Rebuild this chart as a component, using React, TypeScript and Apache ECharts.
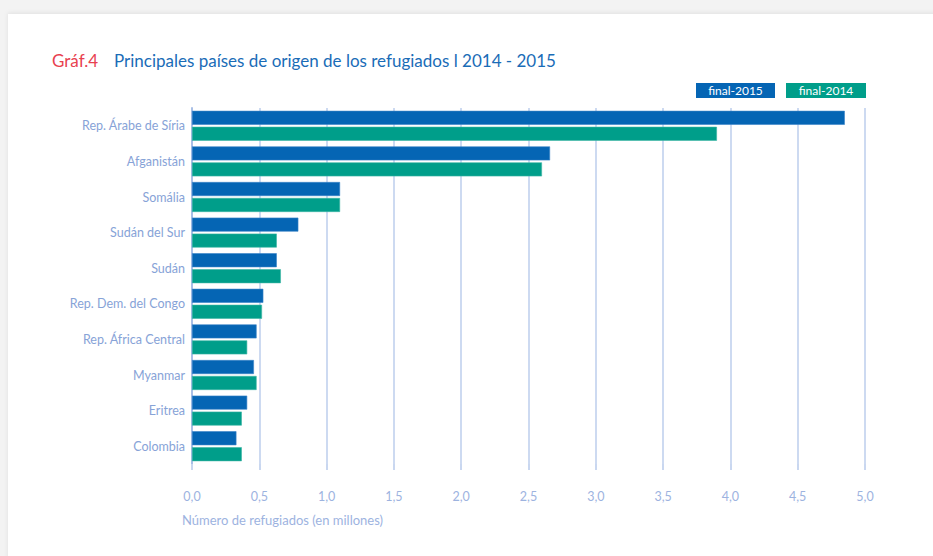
import React, { useEffect, useRef } from "react";
import * as echarts from "echarts";

const categories = [
  "Rep. Árabe de Síria",
  "Afganistán",
  "Somália",
  "Sudán del Sur",
  "Sudán",
  "Rep. Dem. del Congo",
  "Rep. África Central",
  "Myanmar",
  "Eritrea",
  "Colombia",
];
const final2015 = [4.85, 2.66, 1.1, 0.79, 0.63, 0.53, 0.48, 0.46, 0.41, 0.33];
const final2014 = [3.9, 2.6, 1.1, 0.63, 0.66, 0.52, 0.41, 0.48, 0.37, 0.37];
const seriesNames = ["final-2015", "final-2014"];
const xTicks = { min: 0, max: 5, interval: 0.5 };
const titlePrefix = "Gráf.4";
const titleText = "Principales países de origen de los refugiados l 2014 - 2015";
const axisTitle = "Número de refugiados (en millones)";

const BLUE = "#0565b4";
const GREEN = "#009e8a";
const FONT = "Lato, 'Open Sans', sans-serif";

export default function App() {
  const ref = useRef<HTMLDivElement>(null);
  useEffect(() => {
    if (!ref.current) return;
    const chart = echarts.init(ref.current, undefined, { renderer: "svg" });
    chart.setOption({
      animation: false,
      backgroundColor: "#f3f3f3",
      textStyle: { fontFamily: FONT },
      grid: { left: 192, top: 108, width: 673, height: 356, containLabel: false },
      xAxis: {
        type: "value",
        min: xTicks.min,
        max: xTicks.max,
        interval: xTicks.interval,
        axisLine: { show: false },
        axisTick: { show: true, length: 6, lineStyle: { color: "#c9d7f0", width: 2 } },
        splitLine: { show: true, lineStyle: { color: "#cddaf1", width: 2 } },
        axisLabel: {
          margin: 26,
          color: "#9db3df",
          fontSize: 12.5,
          fontFamily: FONT,
          formatter: (v: number) => v.toFixed(1).replace(".", ","),
        },
      },
      yAxis: {
        type: "category",
        inverse: true,
        data: categories,
        axisLine: { show: true, lineStyle: { color: "#a9bfe6", width: 2 } },
        axisTick: { show: false },
        axisLabel: {
          margin: 7,
          color: "#87a3d7",
          fontSize: 12.5,
          fontFamily: FONT,
          padding: [0, 0, 5, 0],
        },
      },
      series: [
        {
          name: seriesNames[0],
          type: "bar",
          data: final2015,
          barWidth: 14,
          barGap: "14%",
          itemStyle: { color: BLUE, borderColor: "#3a85c8", borderWidth: 0.6 },
          z: 3,
        },
        {
          name: seriesNames[1],
          type: "bar",
          data: final2014,
          barWidth: 14,
          barGap: "14%",
          itemStyle: { color: GREEN, borderColor: "#3db5a4", borderWidth: 0.6 },
          z: 3,
        },
      ],
      graphic: [
        {
          type: "rect",
          z: -10,
          shape: { x: 8, y: 14, width: 930, height: 550 },
          style: { fill: "#ffffff", shadowColor: "rgba(0,0,0,0.08)", shadowBlur: 4, shadowOffsetY: -1 },
        },
        {
          type: "line",
          shape: { x1: 192, y1: 463, x2: 192, y2: 470 },
          style: { stroke: "#a9bfe6", lineWidth: 2 },
        },
        {
          type: "text",
          x: 52,
          y: 60,
          style: { text: titlePrefix, fill: "#e8414f", fontSize: 17, fontFamily: FONT, verticalAlign: "middle" },
        },
        {
          type: "text",
          x: 114,
          y: 60,
          style: { text: titleText, fill: "#1a6cb7", fontSize: 17, fontFamily: FONT, verticalAlign: "middle" },
        },
        {
          type: "rect",
          shape: { x: 696, y: 83, width: 79, height: 15 },
          style: { fill: BLUE },
        },
        {
          type: "text",
          x: 735.5,
          y: 90.5,
          style: { text: seriesNames[0], fill: "#ffffff", fontSize: 12, fontFamily: FONT, align: "center", verticalAlign: "middle" },
        },
        {
          type: "rect",
          shape: { x: 786, y: 83, width: 80, height: 15 },
          style: { fill: GREEN },
        },
        {
          type: "text",
          x: 826,
          y: 90.5,
          style: { text: seriesNames[1], fill: "#ffffff", fontSize: 12, fontFamily: FONT, align: "center", verticalAlign: "middle" },
        },
        {
          type: "text",
          x: 182,
          y: 520,
          style: { text: axisTitle, fill: "#9db3df", fontSize: 13, fontFamily: FONT, verticalAlign: "middle" },
        },
      ],
    });
    return () => chart.dispose();
  }, []);
  return (
    <div
      ref={ref}
      style={{ position: "fixed", left: 0, top: 0, width: 933, height: 556 }}
    />
  );
}
